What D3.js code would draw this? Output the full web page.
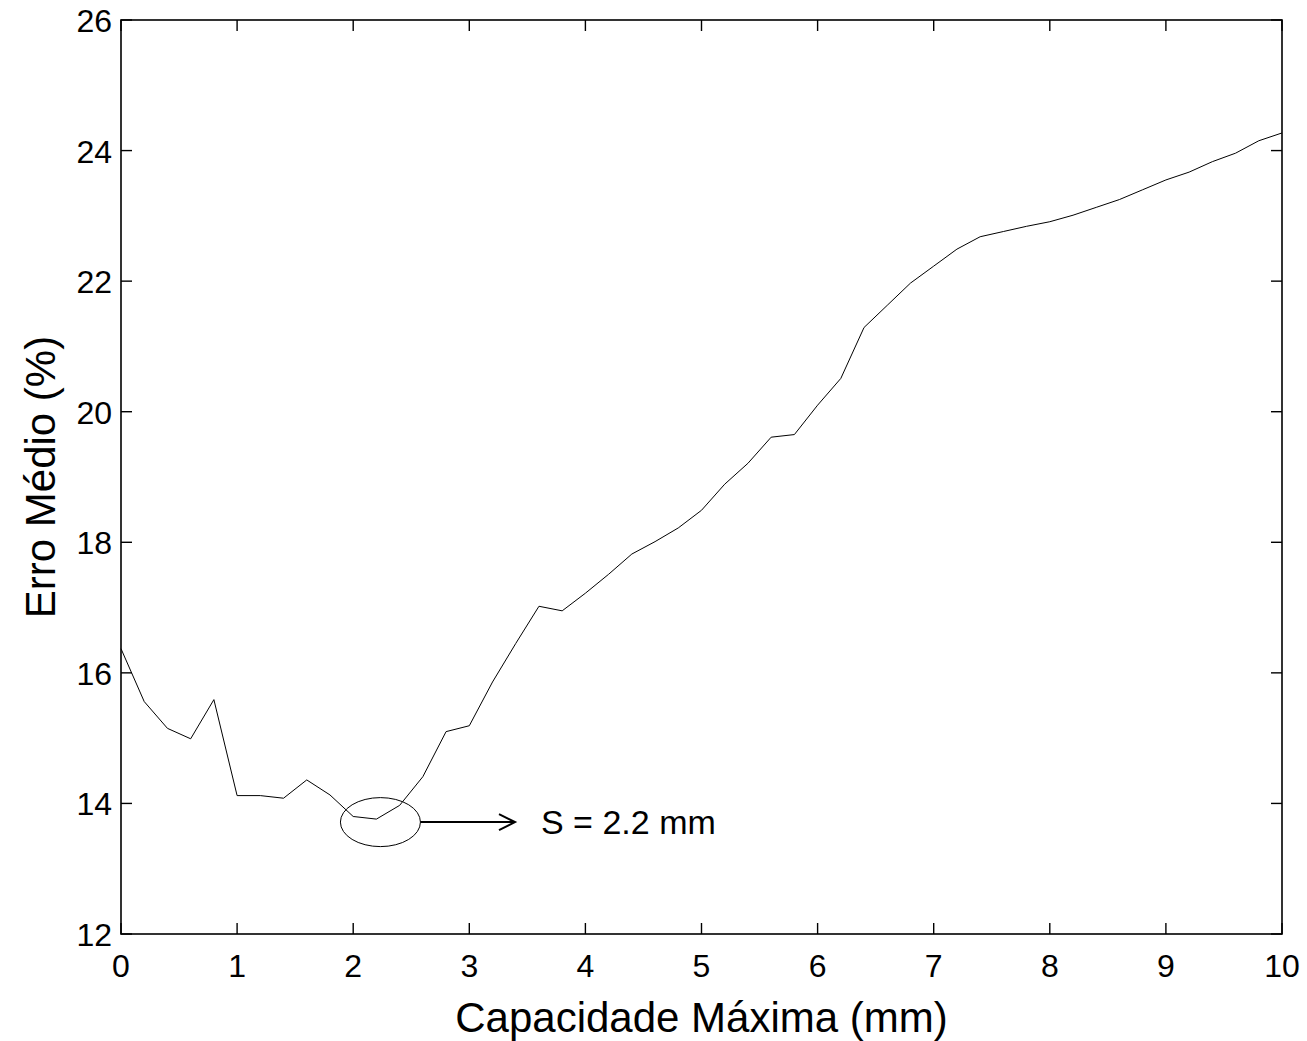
<!DOCTYPE html>
<html>
<head>
<meta charset="utf-8">
<script src="https://cdn.jsdelivr.net/npm/d3@7"></script>
<style>
  body { margin: 0; background: #fff; }
  text { font-family: "Liberation Sans", Arial, sans-serif; fill: #000; }
</style>
</head>
<body>
<div id="chart"></div>
<script>
// capacidade maxima (mm), step 0.2
var capacidade = d3.range(0, 51).map(function(i) { return +(i * 0.2).toFixed(1); });
var erroMedio = [16.37, 15.56, 15.15, 14.99, 15.59, 14.12, 14.12, 14.08, 14.36, 14.13,
                 13.80, 13.76, 13.97, 14.41, 15.10, 15.19, 15.86, 16.45, 17.02, 16.95,
                 17.22, 17.51, 17.82, 18.01, 18.22, 18.49, 18.89, 19.21, 19.61, 19.65,
                 20.10, 20.51, 21.29, 21.63, 21.97, 22.23, 22.49, 22.68, 22.76, 22.84,
                 22.91, 23.01, 23.13, 23.25, 23.40, 23.55, 23.67, 23.83, 23.96, 24.15, 24.27];
var xTicks = [0, 1, 2, 3, 4, 5, 6, 7, 8, 9, 10];
var yTicks = [12, 14, 16, 18, 20, 22, 24, 26];
var minimo = { x: 2.2, y: 13.76, label: "S = 2.2 mm" };

var width = 1307, height = 1041;
var mLeft = 121, mRight = 1282, mTop = 20, mBottom = 934;

var svg = d3.select("#chart").append("svg")
  .attr("width", width)
  .attr("height", height);

var x = d3.scaleLinear().domain([0, 10]).range([mLeft, mRight]);
var y = d3.scaleLinear().domain([12, 26]).range([mBottom, mTop]);

// ticks on all four sides, pointing in (matlab style)
var tl = 11;
var g = svg.append("g");
xTicks.forEach(function(t) {
  g.append("line").attr("x1", x(t)).attr("x2", x(t)).attr("y1", mBottom).attr("y2", mBottom - tl)
    .attr("stroke", "#000").attr("stroke-width", 1.4);
  g.append("line").attr("x1", x(t)).attr("x2", x(t)).attr("y1", mTop).attr("y2", mTop + tl)
    .attr("stroke", "#000").attr("stroke-width", 1.4);
  g.append("text").attr("x", x(t)).attr("y", 977)
    .attr("text-anchor", "middle").style("font-size", "32px").text(t);
});
yTicks.forEach(function(t) {
  g.append("line").attr("x1", mLeft).attr("x2", mLeft + tl).attr("y1", y(t)).attr("y2", y(t))
    .attr("stroke", "#000").attr("stroke-width", 1.4);
  g.append("line").attr("x1", mRight).attr("x2", mRight - tl).attr("y1", y(t)).attr("y2", y(t))
    .attr("stroke", "#000").attr("stroke-width", 1.4);
  g.append("text").attr("x", 112).attr("y", y(t) + 12)
    .attr("text-anchor", "end").style("font-size", "32px").text(t);
});

// frame
svg.append("rect")
  .attr("x", mLeft).attr("y", mTop)
  .attr("width", mRight - mLeft).attr("height", mBottom - mTop)
  .attr("fill", "none").attr("stroke", "#000").attr("stroke-width", 1.6);

// data line
var line = d3.line()
  .x(function(d, i) { return x(capacidade[i]); })
  .y(function(d) { return y(d); });

svg.append("path")
  .datum(erroMedio)
  .attr("d", line)
  .attr("fill", "none")
  .attr("stroke", "#000")
  .attr("stroke-width", 1);

// annotation: ellipse around minimum + arrow + label
var ex = x(minimo.x) + 4, ey = y(minimo.y) + 3;
svg.append("ellipse")
  .attr("cx", ex).attr("cy", ey)
  .attr("rx", 40).attr("ry", 24.5)
  .attr("fill", "none").attr("stroke", "#000").attr("stroke-width", 1);

var ax1 = ex + 40, ax2 = 515;
svg.append("line").attr("x1", ax1).attr("x2", ax2).attr("y1", ey).attr("y2", ey)
  .attr("stroke", "#000").attr("stroke-width", 2);
svg.append("path")
  .attr("d", "M" + (ax2 - 16) + "," + (ey - 8) + "L" + ax2 + "," + ey + "L" + (ax2 - 16) + "," + (ey + 8))
  .attr("fill", "none").attr("stroke", "#000").attr("stroke-width", 2);

svg.append("text")
  .attr("x", 541).attr("y", ey + 12)
  .style("font-size", "34px")
  .text(minimo.label);

// axis titles
svg.append("text")
  .attr("x", (mLeft + mRight) / 2).attr("y", 1032)
  .attr("text-anchor", "middle").style("font-size", "42px")
  .text("Capacidade Máxima (mm)");

svg.append("text")
  .attr("transform", "translate(55," + ((mTop + mBottom) / 2) + ") rotate(-90)")
  .attr("text-anchor", "middle").style("font-size", "42px")
  .text("Erro Médio (%)");
</script>
</body>
</html>
